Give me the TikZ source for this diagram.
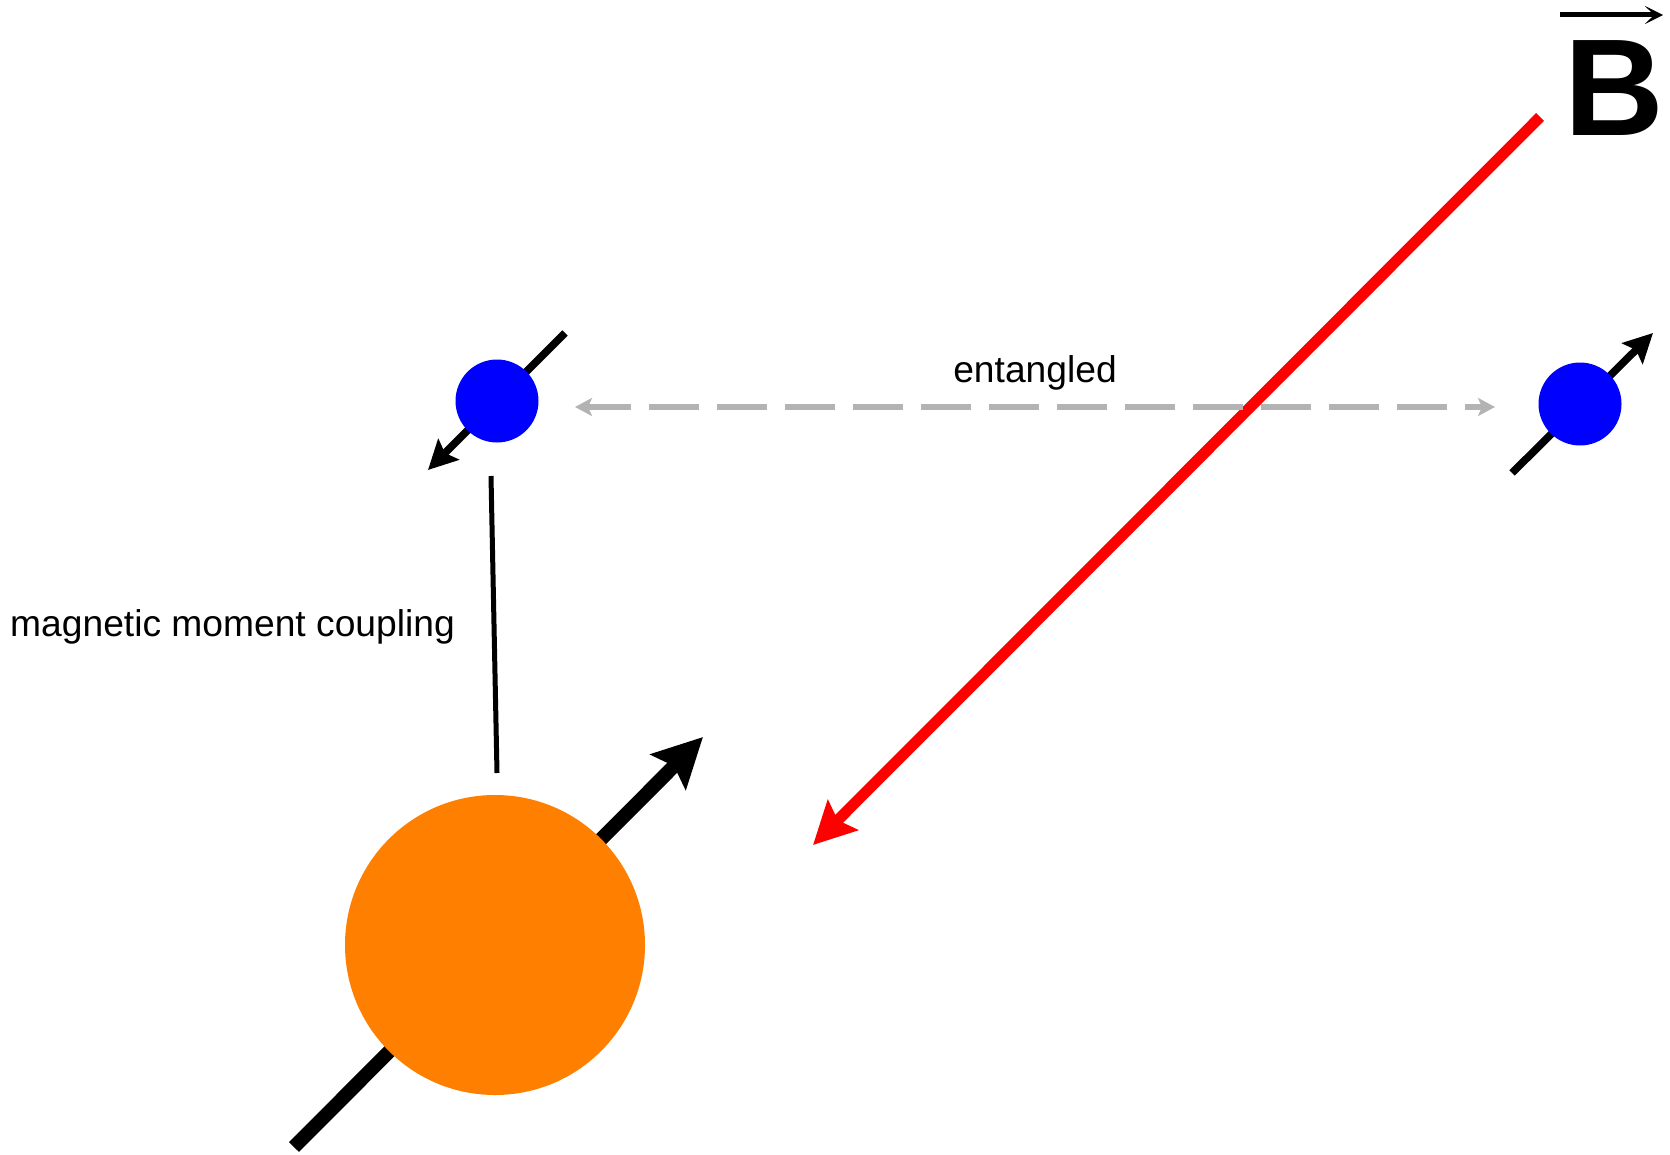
\documentclass[tikz,border=0pt]{standalone}
\usepackage{fontspec}
\setmainfont{Liberation Sans}
\usetikzlibrary{arrows.meta}
\definecolor{spinblue}{HTML}{0000FF}
\definecolor{nucorange}{HTML}{FF8000}
\definecolor{fieldred}{HTML}{FF0000}
\definecolor{entgray}{HTML}{B3B3B3}
\tikzset{
  bigspin/.style={line width=7pt, -{Stealth[length=24.5pt, width=24.5pt, inset=4pt]}},
  smallspin/.style={line width=3.8pt, -{Stealth[length=14.5pt, width=14.5pt, inset=2.5pt]}},
  fieldarrow/.style={fieldred, line width=5.5pt, -{Stealth[length=21pt, width=21pt, inset=3.5pt]}},
  entline/.style={entgray, line width=3.2pt, dash pattern=on 25pt off 9pt, dash phase=3pt,
    {Stealth[length=8.5pt, width=9pt, inset=2pt]}-{Stealth[length=8.5pt, width=9pt, inset=2pt]}},
  coupling/.style={line width=2.5pt},
  electron/.style={circle, fill=spinblue, minimum size=41.5pt, inner sep=0pt},
  nucleus/.style={circle, fill=nucorange, minimum size=150pt, inner sep=0pt},
  lbl/.style={inner sep=0pt, anchor=base, font=\fontsize{18.6pt}{22pt}\selectfont},
}
\begin{document}
\begin{tikzpicture}[x=0.5pt, y=-0.5pt]
\path[use as bounding box] (0,0) rectangle (1670,1155);
% spin arrow end points
\coordinate (e1a) at (565,333);
\coordinate (e1b) at (428,470);
\coordinate (e2a) at (1512,473);
\coordinate (e2b) at (1653,333);
\coordinate (na) at (294,1147);
\coordinate (nb) at (703,737);
\coordinate (ra) at (1540,117);
\coordinate (rb) at (813,845);
\coordinate (da) at (575,407);
\coordinate (db) at (1495,407);
\coordinate (ca) at (491,476);
\coordinate (cb) at (497,773);
\coordinate (ba) at (1560,15);
\coordinate (bb) at (1663,15);
% spins (behind the particles)
\draw[bigspin] (na) -- (nb);
\draw[smallspin] (e1a) -- (e1b);
\draw[smallspin] (e2a) -- (e2b);
% particles
\node[nucleus] (nuc) at (495,945) {};
\node[electron] (el1) at (497,401) {};
\node[electron] (el2) at (1580,404) {};
% field
\draw[fieldarrow] (ra) -- (rb);
\node[inner sep=0pt, anchor=base, font=\fontsize{69pt}{72pt}\selectfont\bfseries] (B) at (1614,136) {B};
\draw[line width=2.5pt, -{Stealth[length=9pt, width=9pt, inset=4.5pt]}] (ba) -- (bb);
% entanglement
\draw[entline] (da) -- (db);
\node[lbl] (ent) at (1035,382) {entangled};
% coupling
\draw[coupling] (ca) -- (cb);
\node[lbl] (cpl) at (232.5,636) {magnetic moment coupling};
\end{tikzpicture}
\end{document}
